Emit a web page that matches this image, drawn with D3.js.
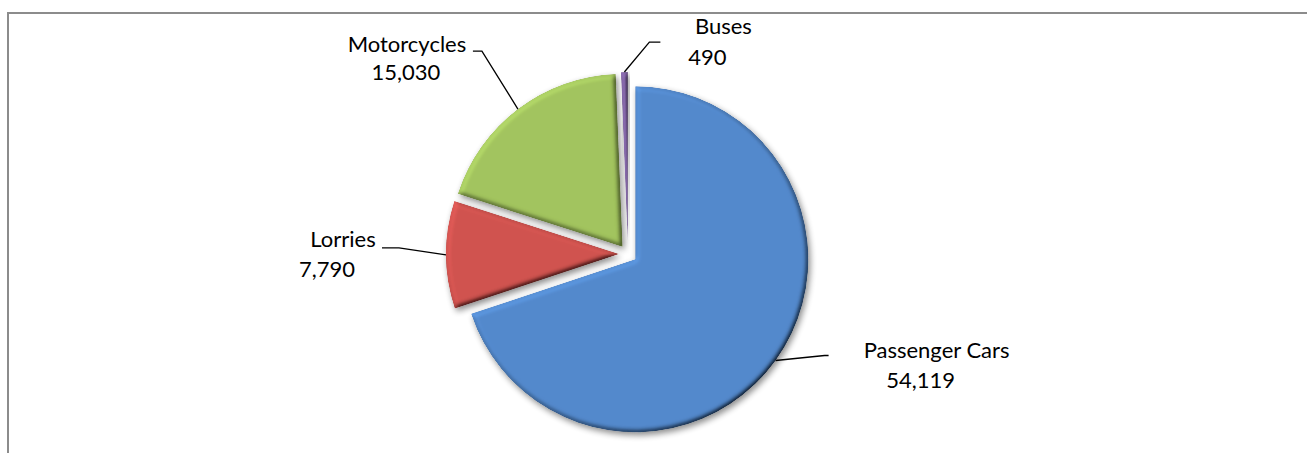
<!DOCTYPE html>
<html>
<head>
<meta charset="utf-8">
<script src="https://cdn.jsdelivr.net/npm/d3@7"></script>
<style>
  html, body { margin: 0; padding: 0; background: #fff; }
  svg { display: block; }
  text { font-family: Lato, "Open Sans", sans-serif; fill: #000; }
</style>
</head>
<body>
<svg id="chart" width="1307" height="453"></svg>
<script>
// data
var categories = ["Passenger Cars", "Lorries", "Motorcycles", "Buses"];
var values = [54119, 7790, 15030, 490];
var colors = ["#5389CC", "#D0534F", "#A2C45E", "#8164A4"];

// label placement (leader elbow from arc edge, horizontal tail, text offsets)
var labelLayout = [
    {elbow: [49, -5], tail: 4, l1: [108, 3], l2: [92, 33]},
    {elbow: [-47, -7], tail: -17, l1: [-39, -1], l2: [-55, 29]},
    {elbow: [-36, -58], tail: -9, l1: [-66, 1], l2: [-67, 29]},
    {elbow: [25, -30], tail: 11, l1: [63, -8], l2: [47, 23]}
];

var width = 1307, height = 453;
var cx = 628, cy = 254;
var radius = 173;
var explode = 9;
var fmt = d3.format(",");

var svg = d3.select("#chart");

// chart frame
svg.append("rect")
    .attr("x", 8).attr("y", 13)
    .attr("width", 1320).attr("height", 480)
    .attr("fill", "#fff")
    .attr("stroke", "#8c8c8c")
    .attr("stroke-width", 2);

var defs = svg.append("defs");
var f = defs.append("filter").attr("id", "bevel")
    .attr("x", "-10%").attr("y", "-10%").attr("width", "130%").attr("height", "130%");
f.append("feGaussianBlur").attr("in", "SourceAlpha").attr("stdDeviation", 2.5).attr("result", "blur");
var light = f.append("feDiffuseLighting").attr("in", "blur")
    .attr("surfaceScale", 4).attr("diffuseConstant", 1)
    .attr("lighting-color", "#fff").attr("result", "diff");
light.append("feDistantLight").attr("azimuth", 225).attr("elevation", 55);
f.append("feComposite").attr("in", "SourceGraphic").attr("in2", "diff")
    .attr("operator", "arithmetic")
    .attr("k1", 1.22).attr("k2", 0).attr("k3", 0).attr("k4", 0).attr("result", "lit");
f.append("feComposite").attr("in", "lit").attr("in2", "SourceAlpha").attr("operator", "in").attr("result", "litIn");
f.append("feGaussianBlur").attr("in", "SourceAlpha").attr("stdDeviation", 3).attr("result", "sblur");
f.append("feOffset").attr("in", "sblur").attr("dx", 2).attr("dy", 3).attr("result", "soff");
f.append("feComponentTransfer").attr("in", "soff").attr("result", "shadow")
    .append("feFuncA").attr("type", "linear").attr("slope", 0.45);
var merge = f.append("feMerge");
merge.append("feMergeNode").attr("in", "shadow");
merge.append("feMergeNode").attr("in", "litIn");

var pie = d3.pie().sort(null).value(d => d);
var piedata = pie(values);

var arc = d3.arc().innerRadius(0).outerRadius(radius);

function offset(d, r) {
    var mid = (d.startAngle + d.endAngle) / 2;
    return [Math.sin(mid) * r, -Math.cos(mid) * r];
}

var g = svg.append("g").attr("transform", "translate(" + cx + "," + cy + ")");

var slices = g.selectAll("g.slice")
    .data(piedata)
    .enter()
    .append("g")
    .attr("class", "slice")
    .attr("transform", d => {
        var o = offset(d, explode);
        return "translate(" + o[0] + "," + o[1] + ")";
    });

slices.append("path")
    .attr("d", arc)
    .attr("fill", (d, i) => colors[i])
    .attr("filter", "url(#bevel)");

// leader lines and labels
piedata.forEach((d, i) => {
    var o = offset(d, explode);
    var e = offset(d, radius);
    var p = [o[0] + e[0], o[1] + e[1]];
    var lay = labelLayout[i];
    var el = [p[0] + lay.elbow[0], p[1] + lay.elbow[1]];
    var h = [el[0] + lay.tail, el[1]];
    g.append("polyline")
        .attr("points", [p, el, h].map(q => q.join(",")).join(" "))
        .attr("fill", "none")
        .attr("stroke", "#000")
        .attr("stroke-width", 1.3);
    g.append("text")
        .attr("x", h[0] + lay.l1[0]).attr("y", h[1] + lay.l1[1])
        .attr("text-anchor", "middle")
        .style("font-size", "22px")
        .text(categories[i]);
    g.append("text")
        .attr("x", h[0] + lay.l2[0]).attr("y", h[1] + lay.l2[1])
        .attr("text-anchor", "middle")
        .style("font-size", "22px")
        .text(fmt(values[i]));
});
</script>
</body>
</html>
